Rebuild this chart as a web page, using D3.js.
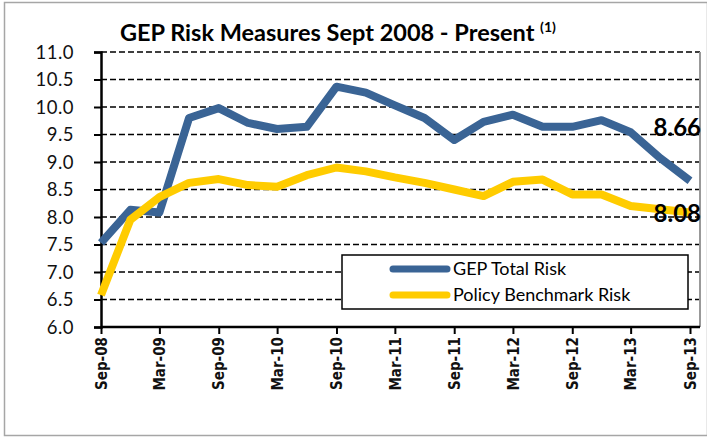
<!DOCTYPE html>
<html>
<head>
<meta charset="utf-8">
<script src="https://cdn.jsdelivr.net/npm/d3@7"></script>
<style>
  body { margin: 0; background: #fff; }
  svg { display: block; }
  .ylab { font-family: "Lato", "Open Sans", sans-serif; font-size: 18.5px; fill: #111; letter-spacing: 0.5px; }
  .xlab { font-family: "Liberation Sans Narrow", "DejaVu Sans Condensed", sans-serif; font-size: 15px; font-weight: bold; fill: #111; }
</style>
</head>
<body>
<div id="chart"></div>
<script>
// quarterly observations, Sep-08 .. Sep-13
var quarters = ["2008-09","2008-12","2009-03","2009-06","2009-09","2009-12","2010-03","2010-06",
  "2010-09","2010-12","2011-03","2011-06","2011-09","2011-12","2012-03","2012-06",
  "2012-09","2012-12","2013-03","2013-06","2013-09"];
var gepTotalRisk = [7.53,8.13,8.08,9.80,9.98,9.71,9.60,9.64,10.37,10.26,10.03,9.80,9.40,9.73,9.86,9.64,9.64,9.76,9.54,9.07,8.66];
var policyBenchRisk = [6.58,7.95,8.36,8.62,8.69,8.58,8.55,8.76,8.90,8.83,8.72,8.62,8.50,8.38,8.64,8.68,8.41,8.41,8.20,8.14,8.08];
var yTicks = [6.0,6.5,7.0,7.5,8.0,8.5,9.0,9.5,10.0,10.5,11.0];
var xTickLabels = ["Sep-08","Mar-09","Sep-09","Mar-10","Sep-10","Mar-11","Sep-11","Mar-12","Sep-12","Mar-13","Sep-13"];
var seriesNames = ["GEP Total Risk","Policy Benchmark Risk"];
var endLabels = ["8.66","8.08"];

var W = 707, H = 438;
var parseQ = d3.timeParse("%Y-%m");
var parseT = d3.timeParse("%b-%y");

var svg = d3.select("#chart").append("svg")
    .attr("width", W).attr("height", H);

// outer frame
svg.append("rect")
    .attr("x", 4.5).attr("y", 2.5).attr("width", 703).attr("height", 433)
    .attr("fill", "none").attr("stroke", "#a6a6a6").attr("stroke-width", 1.5);

var x = d3.scaleTime()
    .domain([parseQ("2008-09"), parseQ("2013-09")])
    .range([101, 690]);
var y = d3.scaleLinear().domain([6, 11]).range([327, 52]);

// gridlines
svg.append("g")
  .selectAll("line")
  .data(yTicks.filter(function(d){ return d > 6; }))
  .enter().append("line")
    .attr("x1", 101).attr("x2", 700)
    .attr("y1", function(d){ return y(d); })
    .attr("y2", function(d){ return y(d); })
    .attr("stroke", "#000").attr("stroke-width", 1.5)
    .attr("stroke-dasharray", "6,3");

// plot area right edge
svg.append("line")
    .attr("x1", 700).attr("x2", 700).attr("y1", y(11)).attr("y2", y(6))
    .attr("stroke", "#999").attr("stroke-width", 2);

// y axis
var yAxis = d3.axisLeft(y).tickValues(yTicks).tickSize(7).tickPadding(20)
    .tickFormat(d3.format(".1f"));
var gy = svg.append("g").attr("transform", "translate(101,0)").call(yAxis);
gy.select(".domain").attr("stroke", "#000").attr("stroke-width", 2.5);
gy.selectAll(".tick line").attr("stroke", "#000").attr("stroke-width", 2);
gy.selectAll(".tick text").attr("class", "ylab").attr("dy", "0.35em");

// x axis
var xAxis = d3.axisBottom(x)
    .tickValues(xTickLabels.map(function(s){ return parseT(s); }))
    .tickSize(7)
    .tickFormat(function(d, i){ return xTickLabels[i]; });
var gx = svg.append("g").attr("transform", "translate(0,327)").call(xAxis);
gx.select(".domain").attr("stroke", "#000").attr("stroke-width", 2.5)
    .attr("d", "M101,0H700");
gx.selectAll(".tick line").attr("stroke", "#000").attr("stroke-width", 2);
gx.selectAll(".tick text")
    .attr("class", "xlab")
    .attr("transform", "rotate(-90)")
    .attr("x", -10).attr("y", 0).attr("dy", "0.35em")
    .style("text-anchor", "end");

// lines
var line = d3.line()
    .x(function(d){ return x(d.date); })
    .y(function(d){ return y(d.v); });

function toSeries(vals) {
  return vals.map(function(v, i){ return { date: parseQ(quarters[i]), v: v }; });
}
var colors = ["#3a6495", "#ffcc00"];
var allSeries = [toSeries(gepTotalRisk), toSeries(policyBenchRisk)];

svg.append("g").selectAll("path")
  .data(allSeries)
  .enter().append("path")
    .attr("d", line)
    .attr("fill", "none")
    .attr("stroke", function(d, i){ return colors[i]; })
    .attr("stroke-width", 8)
    .attr("stroke-linejoin", "round");

// end value labels
svg.append("g").selectAll("text")
  .data(endLabels)
  .enter().append("text")
    .attr("x", 701)
    .attr("y", function(d, i){ return i === 0 ? 136 : 222; })
    .attr("text-anchor", "end")
    .attr("font-family", "Lato, sans-serif")
    .attr("font-weight", "bold")
    .attr("font-size", 24)
    .attr("fill", "#000")
    .text(function(d){ return d; });

// legend
var leg = svg.append("g");
leg.append("rect")
    .attr("x", 342).attr("y", 255).attr("width", 346).attr("height", 54)
    .attr("fill", "#fff").attr("stroke", "#000").attr("stroke-width", 1.5);
seriesNames.forEach(function(name, i){
  var ly = 269 + i * 26;
  leg.append("line")
      .attr("x1", 393).attr("x2", 447).attr("y1", ly).attr("y2", ly)
      .attr("stroke", colors[i]).attr("stroke-width", 7)
      .attr("stroke-linecap", "round");
  leg.append("text")
      .attr("x", 453).attr("y", ly).attr("dy", "0.35em")
      .attr("font-family", "Lato, sans-serif")
      .attr("font-size", 18)
      .attr("fill", "#000")
      .text(name);
});

// title
var title = svg.append("text")
    .attr("x", 120).attr("y", 41)
    .attr("font-family", "Lato, sans-serif")
    .attr("font-weight", "bold")
    .attr("font-size", 23.5)
    .attr("fill", "#000")
    .text("GEP Risk Measures Sept 2008 - Present ");
title.append("tspan")
    .attr("font-size", 14)
    .attr("dy", -9)
    .text("(1)");
</script>
</body>
</html>
